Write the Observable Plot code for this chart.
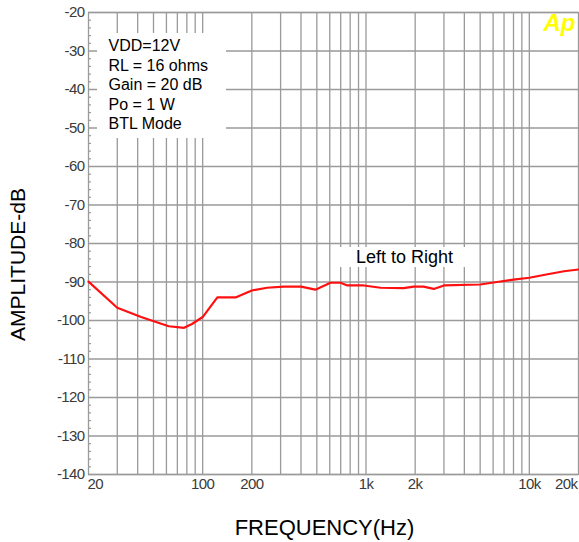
<!DOCTYPE html>
<html>
<head>
<meta charset="utf-8">
<script src="https://cdn.jsdelivr.net/npm/d3@7"></script>
<script src="https://cdn.jsdelivr.net/npm/@observablehq/plot@0.6"></script>
<style>
  html, body { margin: 0; padding: 0; background: white; }
  g[aria-label="y-axis tick label"] text,
  g[aria-label="x-axis tick label"] text,
  g.edge-tick text { letter-spacing: -0.6px; }
</style>
</head>
<body>
<div id="chart"></div>
<script>
// Frequency response (Left to Right crosstalk)
const freqHz = [20, 30, 42, 62, 77, 86, 100, 123, 159, 200, 248, 314, 400, 490, 606, 700, 768, 970, 1228, 1700, 1960, 2250, 2600, 3000, 5000, 6340, 8000, 10000, 12700, 16300, 20000];
const amplitudeDb = [-89.9, -96.7, -99.1, -101.5, -101.9, -100.9, -99.1, -94.0, -94.0, -92.2, -91.5, -91.2, -91.2, -92.0, -90.2, -90.2, -90.9, -90.9, -91.5, -91.6, -91.2, -91.2, -91.8, -90.9, -90.65, -90.0, -89.4, -88.9, -88.05, -87.2, -86.75];

const gridFreqs = [30, 40, 50, 60, 70, 80, 90, 100, 200, 300, 400, 500, 600, 700, 800, 900, 1000, 2000, 3000, 4000, 5000, 6000, 7000, 8000, 9000, 10000];
const xTickValues = [50, 100, 200, 500, 1000, 2000, 5000, 10000];
const xTickLabels = ["50", "100", "200", "500", "1k", "2k", "5k", "10k"];
const yTicks = [-20, -30, -40, -50, -60, -70, -80, -90, -100, -110, -120, -130, -140];
const yMinorTicks = d3.range(-138, -20, 2).filter(v => v % 10 !== 0);
const legendLines = ["VDD=12V", "RL = 16 ohms", "Gain = 20 dB", "Po = 1 W", "BTL Mode"];
const seriesLabel = "Left to Right";

const data = freqHz.map((f, i) => ({f, v: amplitudeDb[i]}));

const tickFont = "'Liberation Sans', Arial, sans-serif";
const tickColor = "#3a3a3a";
const gridColor = "#9a9a9a";

// white annotation box, positioned relative to the plot frame (pixels)
function whiteBox(left, top, w, h) {
  return (index, scales, values, dims) => {
    const r = document.createElementNS("http://www.w3.org/2000/svg", "rect");
    r.setAttribute("x", dims.marginLeft + left);
    r.setAttribute("y", dims.marginTop + top);
    r.setAttribute("width", w);
    r.setAttribute("height", h);
    r.setAttribute("fill", "white");
    return r;
  };
}

const chart = Plot.plot({
  width: 579,
  height: 542,
  marginLeft: 88,
  marginRight: 1,
  marginTop: 12,
  marginBottom: 68,
  style: {background: "white", fontFamily: "'Liberation Sans', Arial, sans-serif"},
  x: {type: "log", domain: [20, 20000]},
  y: {domain: [-140, -20]},
  marks: [
    Plot.gridX(gridFreqs, {stroke: gridColor, strokeOpacity: 1, strokeWidth: 1.3}),
    Plot.gridY(yTicks, {stroke: gridColor, strokeOpacity: 1, strokeWidth: 1.3}),
    Plot.frame({stroke: gridColor, strokeWidth: 1.3}),
    Plot.axisY(yMinorTicks, {tickSize: -3, text: null, stroke: gridColor, strokeWidth: 1.2, label: null}),
    Plot.axisY(yTicks, {tickSize: 0, tickPadding: 4, fontSize: 15, fontFamily: tickFont, fill: tickColor, label: null,
      tickFormat: (d) => String(d)}),
    Plot.axisX(xTickValues, {tickSize: 0, tickPadding: 4, fontSize: 15, fontFamily: tickFont, fill: tickColor, label: null,
      tickFormat: (d) => xTickLabels[xTickValues.indexOf(d)]}),
    Plot.text([20], {x: d => d, frameAnchor: "bottom", textAnchor: "start", lineAnchor: "top", dy: 4, dx: -1,
      text: () => "20", fontSize: 15, fontFamily: tickFont, fill: tickColor, className: "edge-tick"}),
    Plot.text([20000], {x: d => d, frameAnchor: "bottom", textAnchor: "end", lineAnchor: "top", dy: 4, dx: -1,
      text: () => "20k", fontSize: 15, fontFamily: tickFont, fill: tickColor, className: "edge-tick"}),
    whiteBox(9, 21, 129, 105),
    Plot.text([legendLines.join("\n")], {frameAnchor: "top-left", textAnchor: "start", lineAnchor: "top",
      dx: 20, dy: 25, fontSize: 16, lineHeight: 1.22, fill: "#000"}),
    whiteBox(250, 235, 127, 20),
    Plot.text([seriesLabel], {frameAnchor: "top-left", textAnchor: "middle", lineAnchor: "middle",
      dx: 316, dy: 245, fontSize: 18, fill: "#000"}),
    Plot.text(["Ap"], {frameAnchor: "top-right", textAnchor: "end", lineAnchor: "top", dx: -3, dy: 1,
      fontSize: 24, fontWeight: "bold", fontStyle: "italic", fill: "#ffff00"}),
    Plot.line(data, {x: "f", y: "v", stroke: "#ff1010", strokeWidth: 2.2}),
    Plot.text(["FREQUENCY(Hz)"], {frameAnchor: "bottom", textAnchor: "middle", lineAnchor: "middle", dx: -9, dy: 53.5, fontSize: 22, fill: "#000"}),
    Plot.text(["AMPLITUDE-dB"], {frameAnchor: "left", textAnchor: "middle", lineAnchor: "middle", rotate: -90, dx: -70.5, dy: 21, fontSize: 21, fill: "#000"})
  ]
});
document.getElementById("chart").appendChild(chart);
</script>
</body>
</html>
